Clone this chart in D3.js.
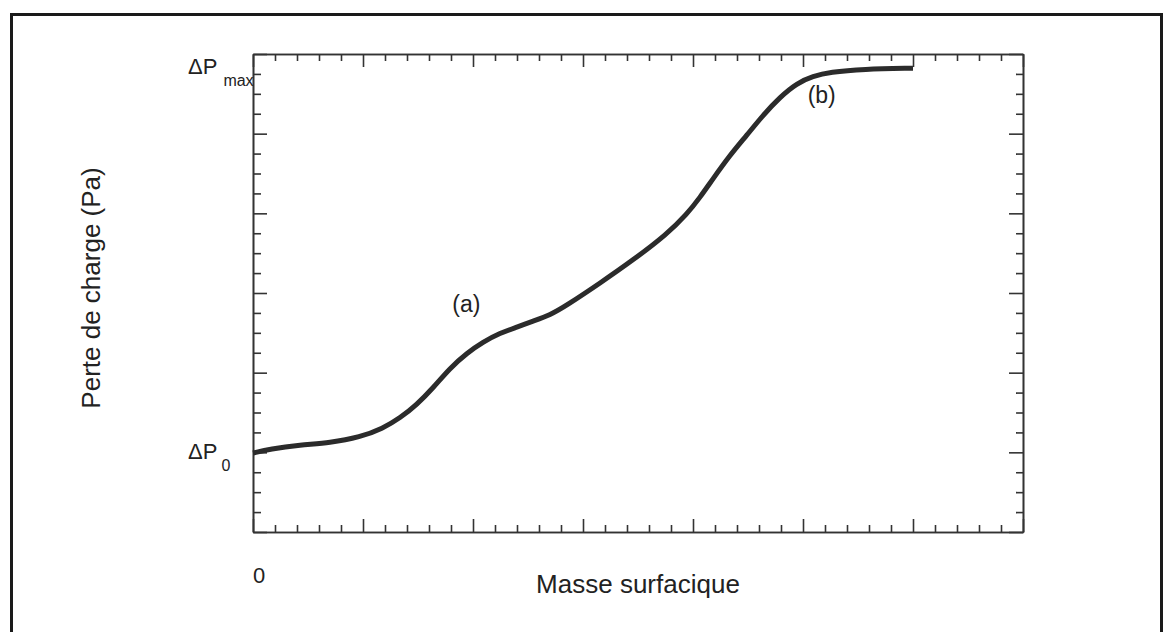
<!DOCTYPE html>
<html>
<head>
<meta charset="utf-8">
<script src="https://cdn.jsdelivr.net/npm/d3@7"></script>
<style>
  html, body { margin: 0; padding: 0; background: #fff; }
  svg { display: block; }
  text { font-family: "Liberation Sans", Arial, Helvetica, sans-serif; fill: #222; }
</style>
</head>
<body>
<svg id="chart" width="1164" height="632"></svg>
<script>
// ---- data (x and y in axis units) ----
const massValues = [0, 0.155, 0.427, 0.7, 0.973, 1.18, 1.336, 1.49, 1.636, 1.79, 1.945, 2.09, 2.245, 2.4, 2.545, 2.7, 2.855, 3.155, 3.455, 3.764, 3.945, 4.064, 4.18, 4.336, 4.49, 4.636, 4.79, 4.945, 5.09, 5.245, 5.545, 6.0];
const pressureValues = [0.991, 1.041, 1.092, 1.12, 1.19, 1.3, 1.43, 1.6, 1.807, 2.058, 2.246, 2.384, 2.497, 2.572, 2.647, 2.723, 2.848, 3.124, 3.413, 3.74, 3.99, 4.2, 4.43, 4.73, 4.981, 5.232, 5.458, 5.634, 5.721, 5.772, 5.809, 5.822];
const xDomain = [0, 7];
const yDomain = [0, 6];
const xMajorStep = 1, xMinorStep = 0.2;
const yMajorStep = 1, yMinorStep = 0.25;
const xTickLabels = [{ v: 0, label: "0" }];
const yTickLabels = [{ v: 0.99, main: "ΔP", sub: "0" }, { v: 5.822, main: "ΔP", sub: "max" }];
const annotations = [{ x: 1.94, y: 2.76, label: "(a)" }, { x: 5.17, y: 5.38, label: "(b)" }];
const xTitle = "Masse surfacique";
const yTitle = "Perte de charge (Pa)";

// ---- layout ----
const svg = d3.select("#chart");
const pLeft = 253, pRight = 1023, pTop = 54, pBottom = 532;
const x = d3.scaleLinear().domain(xDomain).range([pLeft, pRight]);
const y = d3.scaleLinear().domain(yDomain).range([pBottom, pTop]);

// outer frame
svg.append("path")
  .attr("d", "M11.5,640 L11.5,14.5 L1161.5,14.5 L1161.5,640")
  .attr("fill", "none").attr("stroke", "#1a1a1a").attr("stroke-width", 3);

const eps = 1e-9;
const xMinor = d3.range(xDomain[0], xDomain[1] + eps, xMinorStep).filter(v => Math.abs(v / xMajorStep - Math.round(v / xMajorStep)) > 1e-6);
const xMajor = d3.range(xDomain[0], xDomain[1] + eps, xMajorStep);
const yMinor = d3.range(yDomain[0], yDomain[1] + eps, yMinorStep).filter(v => Math.abs(v / yMajorStep - Math.round(v / yMajorStep)) > 1e-6);
const yMajor = d3.range(yDomain[0], yDomain[1] + eps, yMajorStep);

function styleAxis(g) {
  g.select(".domain").attr("stroke", "#333").attr("stroke-width", 1.6);
  g.selectAll(".tick line").attr("stroke", "#333").attr("stroke-width", 1.6);
  g.selectAll(".tick text").remove();
}

function addAxis(gen, transform, values, size) {
  svg.append("g").attr("transform", transform)
    .call(gen.tickValues(values).tickSizeInner(size).tickSizeOuter(0).tickFormat(""))
    .call(styleAxis);
}
// bottom (ticks inward = upward)
addAxis(d3.axisBottom(x), `translate(0,${pBottom})`, xMinor, -7);
addAxis(d3.axisBottom(x), `translate(0,${pBottom})`, xMajor, -13);
// top (inward = downward)
addAxis(d3.axisTop(x), `translate(0,${pTop})`, xMinor, -7);
addAxis(d3.axisTop(x), `translate(0,${pTop})`, xMajor, -13);
// left (inward = right)
addAxis(d3.axisLeft(y), `translate(${pLeft},0)`, yMinor, -8);
addAxis(d3.axisLeft(y), `translate(${pLeft},0)`, yMajor, -14);
// right (inward = left)
addAxis(d3.axisRight(y), `translate(${pRight},0)`, yMinor, -7);
addAxis(d3.axisRight(y), `translate(${pRight},0)`, yMajor, -14);

// curve
const pts = massValues.map((m, i) => [m, pressureValues[i]]);
const line = d3.line().x(d => x(d[0])).y(d => y(d[1])).curve(d3.curveBasis);
svg.append("path").datum(pts)
  .attr("d", line)
  .attr("fill", "none")
  .attr("stroke", "#2b2b2b")
  .attr("stroke-width", 5)
  .attr("stroke-linecap", "butt")
  .attr("stroke-linejoin", "round");

// y tick labels (ΔP0, ΔPmax)
yTickLabels.forEach(t => {
  const txt = svg.append("text")
    .attr("x", pLeft - 65)
    .attr("y", y(t.v) + 6)
    .attr("font-size", 22);
  txt.append("tspan").text(t.main);
  txt.append("tspan").attr("dx", t.sub === "0" ? 4 : 6).attr("dy", 12).attr("font-size", 16).text(t.sub);
});

// x tick label
xTickLabels.forEach(t => {
  svg.append("text")
    .attr("x", x(t.v) + 6)
    .attr("y", 583)
    .attr("text-anchor", "middle")
    .attr("font-size", 22)
    .text(t.label);
});

// annotations
annotations.forEach(a => {
  svg.append("text")
    .attr("x", x(a.x))
    .attr("y", y(a.y))
    .attr("text-anchor", "middle")
    .attr("font-size", 23)
    .text(a.label);
});

// axis titles
svg.append("text")
  .attr("x", 638)
  .attr("y", 593)
  .attr("text-anchor", "middle")
  .attr("font-size", 26)
  .text(xTitle);

svg.append("text")
  .attr("transform", `translate(100,288) rotate(-90)`)
  .attr("text-anchor", "middle")
  .attr("font-size", 26)
  .text(yTitle);
</script>
</body>
</html>
